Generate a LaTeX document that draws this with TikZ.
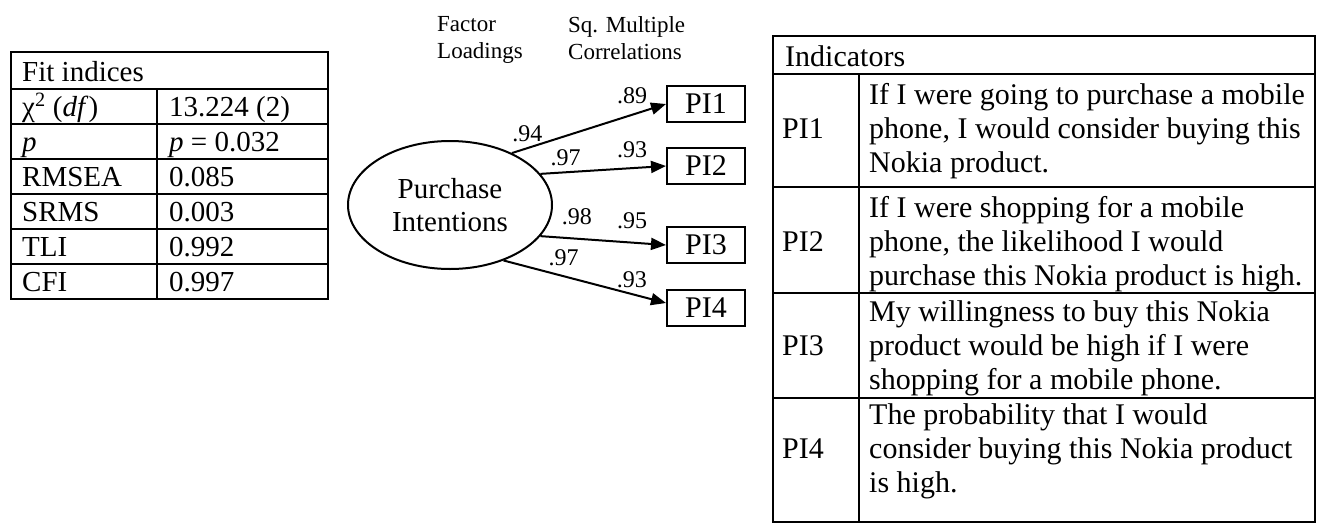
\documentclass[tikz,border=0pt]{standalone}
\usepackage{fontspec}
\setmainfont{Liberation Serif}
\usetikzlibrary{arrows.meta,shapes.geometric}
\begin{document}
\begin{tikzpicture}[x=1pt,y=-1pt,
  tabline/.style={line width=2.4pt},
  celltext/.style={anchor=base west, inner sep=0pt, font=\fontsize{29}{34}\selectfont},
  rowlabel/.style={anchor=base west, inner sep=0pt, font=\fontsize{30}{34}\selectfont},
  desc/.style={anchor=west, inner sep=0pt, align=left, font=\fontsize{30}{34}\selectfont},
  header/.style={anchor=north west, inner sep=0pt, align=left, font=\fontsize{23}{27}\selectfont},
  latent/.style={draw, ellipse, line width=2pt, minimum width=204pt, minimum height=128pt,
                 align=center, font=\fontsize{29}{33}\selectfont},
  indbox/.style={draw, line width=2pt, minimum width=78pt, minimum height=36pt,
                 inner sep=0pt, font=\fontsize{30}{34}\selectfont},
  loadarrow/.style={line width=2pt, -{Triangle[length=15pt,width=12pt]}},
  coef/.style={inner sep=0pt, font=\fontsize{24}{27}\selectfont}
]
\useasboundingbox (0,0) rectangle (1320,525);

% ---- fit indices table ----
\draw[tabline] (11,52) rectangle (328,299);
\foreach \yy in {89,124,159,194,229,264} \draw[tabline] (11,\yy) -- (328,\yy);
\draw[tabline] (157,89) -- (157,299);
\node[celltext] (fit) at (22,81) {Fit indices};
\node[celltext] (chiL) at (22,116) {χ\textsuperscript{2} (\textit{df})};
\node[celltext] (chiV) at (169,116) {13.224 (2)};
\node[celltext] (pL) at (22,151) {\textit{p}};
\node[celltext] (pV) at (169,151) {\textit{p} = 0.032};
\node[celltext] (rmL) at (22,186) {RMSEA};
\node[celltext] (rmV) at (169,186) {0.085};
\node[celltext] (srL) at (22,221) {SRMS};
\node[celltext] (srV) at (169,221) {0.003};
\node[celltext] (tlL) at (22,256) {TLI};
\node[celltext] (tlV) at (169,256) {0.992};
\node[celltext] (cfL) at (22,291) {CFI};
\node[celltext] (cfV) at (169,291) {0.997};

% ---- measurement model ----
\node[header] (fl) at (437,16) {Factor\\Loadings};
\node[header] (smc) at (568,16) {Sq. Multiple\\Correlations};

\node[latent] (PI) at (450,205) {Purchase\\Intentions};

\node[indbox] (p1) at (706,104) {PI1};
\node[indbox] (p2) at (706,166) {PI2};
\node[indbox] (p3) at (706,245) {PI3};
\node[indbox] (p4) at (706,308) {PI4};

\draw[loadarrow] (PI.40.9) -- (p1.west)
  node[coef, pos=0.10, yshift=14pt] (l1) {.94}
  node[coef, pos=0.78, yshift=19pt] (r1) {.89};
\draw[loadarrow] (PI.19.4) -- (p2.west)
  node[coef, pos=0.20, yshift=15pt] (l2) {.97}
  node[coef, pos=0.73, yshift=18pt] (r2) {.93};
\draw[loadarrow] (PI.-19.6) -- (p3.west)
  node[coef, pos=0.29, yshift=22pt] (l3) {.98}
  node[coef, pos=0.73, yshift=22pt] (r3) {.95};
\draw[loadarrow] (PI.-46.5) -- ([yshift=5pt]p4.west)
  node[coef, pos=0.37, yshift=19pt] (l4) {.97}
  node[coef, pos=0.79, yshift=14pt] (r4) {.93};

% ---- indicators table ----
\draw[tabline] (773,36) rectangle (1315,522);
\foreach \yy in {74,187,293,398} \draw[tabline] (773,\yy) -- (1315,\yy);
\draw[tabline] (859,74) -- (859,522);
\node[rowlabel] (ind) at (785,66) {Indicators};
\node[rowlabel] (i1) at (782,138) {PI1};
\node[rowlabel] (i2) at (782,251) {PI2};
\node[rowlabel] (i3) at (782,355) {PI3};
\node[rowlabel] (i4) at (782,458) {PI4};
\node[desc] (d1) at (869,131) {If I were going to purchase a mobile\\phone, I would consider buying this\\Nokia product.};
\node[desc] (d2) at (869,244) {If I were shopping for a mobile\\phone, the likelihood I would\\purchase this Nokia product is high.};
\node[desc] (d3) at (869,348) {My willingness to buy this Nokia\\product would be high if I were\\shopping for a mobile phone.};
\node[desc] (d4) at (869,451) {The probability that I would\\consider buying this Nokia product\\is high.};
\end{tikzpicture}
\end{document}
